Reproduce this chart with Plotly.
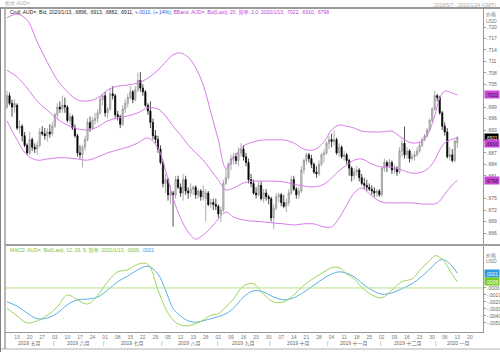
import plotly.graph_objects as go
import pandas as pd

# ---------------- data (AUD= daily bid) ----------------
start_date = "2019-05-07"
last_date = "2020-01-13"
axis_end_date = "2020-01-24"

opens = [.6990,.7020,.7000,.6990,.6995,.6935,.6940,.6915,.6890,.6870,.6905,.6885,.6880,.6890,.6925,.6920,.6915,.6925,.6920,.6940,
         .6970,.6990,.6985,.6995,.6990,.6955,.6965,.6935,.6915,.6870,.6865,.6885,.6905,.6950,.6935,.6955,.6960,.6975,.7010,.7020,
         .6975,.6985,.7025,.7020,.6970,.6965,.6945,.6985,.7000,.7015,.7030,.7010,.7035,.7060,.7040,.7030,.6995,.6980,.6950,.6915,
         .6905,.6880,.6845,.6790,.6800,.6760,.6765,.6760,.6800,.6780,.6765,.6800,.6770,.6765,.6775,.6780,.6760,.6770,.6755,.6750,
         .6765,.6735,.6740,.6735,.6730,.6710,.6720,.6790,.6805,.6840,.6855,.6860,.6850,.6870,.6880,.6860,.6845,.6800,.6790,.6765,
         .6760,.6785,.6750,.6765,.6755,.6750,.6700,.6725,.6755,.6760,.6740,.6730,.6740,.6765,.6800,.6775,.6760,.6770,.6825,.6850,
         .6865,.6855,.6840,.6820,.6815,.6840,.6865,.6870,.6895,.6905,.6900,.6905,.6870,.6885,.6860,.6865,.6850,.6830,.6810,.6820,
         .6825,.6805,.6790,.6785,.6780,.6775,.6770,.6765,.6770,.6760,.6830,.6845,.6835,.6845,.6825,.6830,.6820,.6875,.6895,.6865,
         .6875,.6855,.6860,.6865,.6875,.6890,.6905,.6915,.6930,.6955,.6985,.7020,.7015,.6975,.6940,.6925,.6860,.6865,.6850,.6896]
highs = [.7033,.7028,.7010,.7010,.7000,.6955,.6945,.6925,.6895,.6925,.6910,.6895,.6900,.6935,.6940,.6935,.6935,.6945,.6950,.6975,
         .7000,.7005,.7020,.7015,.6995,.6975,.6970,.6945,.6920,.6890,.6890,.6915,.6960,.6965,.6965,.6975,.6985,.7020,.7025,.7030,
         .6990,.7040,.7045,.7025,.6980,.6970,.6995,.7010,.7025,.7045,.7035,.7045,.7080,.7082,.7050,.7035,.7000,.7005,.6960,.6930,
         .6915,.6890,.6850,.6815,.6805,.6785,.6770,.6810,.6810,.6790,.6815,.6810,.6780,.6790,.6785,.6785,.6775,.6775,.6785,.6775,
         .6770,.6750,.6750,.6750,.6735,.6730,.6800,.6830,.6845,.6865,.6870,.6870,.6885,.6895,.6890,.6870,.6855,.6815,.6800,.6780,
         .6795,.6795,.6775,.6775,.6760,.6755,.6735,.6765,.6765,.6765,.6760,.6750,.6775,.6810,.6810,.6780,.6780,.6835,.6855,.6870,
         .6870,.6865,.6845,.6835,.6850,.6870,.6880,.6900,.6915,.6920,.6930,.6910,.6895,.6890,.6875,.6870,.6855,.6835,.6830,.6835,
         .6830,.6815,.6805,.6800,.6790,.6785,.6780,.6775,.6775,.6835,.6855,.6850,.6855,.6850,.6840,.6835,.6885,.6905,.6939,.6885,
         .6880,.6870,.6875,.6885,.6900,.6910,.6920,.6935,.6960,.6990,.7032,.7025,.7020,.6980,.6950,.6935,.6885,.6880,.6905,.6913]
lows = [.6985,.6995,.6965,.6975,.6930,.6920,.6900,.6885,.6865,.6865,.6875,.6870,.6865,.6885,.6915,.6905,.6900,.6910,.6915,.6935,
        .6960,.6975,.6975,.6975,.6950,.6945,.6930,.6910,.6860,.6855,.6832,.6875,.6900,.6925,.6930,.6945,.6950,.6970,.6995,.6965,
        .6960,.6980,.7010,.6960,.6955,.6935,.6940,.6975,.6990,.7010,.7000,.7005,.7030,.7030,.7020,.6990,.6970,.6935,.6905,.6895,
        .6870,.6840,.6780,.6765,.6745,.6735,.6677,.6750,.6775,.6755,.6745,.6760,.6750,.6755,.6760,.6750,.6750,.6745,.6745,.6690,
        .6730,.6725,.6720,.6720,.6700,.6688,.6715,.6785,.6800,.6825,.6840,.6840,.6835,.6860,.6850,.6835,.6790,.6780,.6760,.6750,
        .6755,.6745,.6740,.6745,.6735,.6690,.6671,.6720,.6740,.6730,.6725,.6715,.6730,.6760,.6770,.6750,.6750,.6765,.6815,.6840,
        .6845,.6830,.6815,.6805,.6810,.6835,.6845,.6865,.6880,.6885,.6890,.6865,.6860,.6855,.6850,.6840,.6810,.6795,.6800,.6810,
        .6795,.6785,.6775,.6770,.6770,.6760,.6755,.6755,.6755,.6755,.6820,.6820,.6830,.6815,.6815,.6810,.6815,.6860,.6855,.6855,
        .6845,.6850,.6850,.6860,.6870,.6885,.6900,.6910,.6925,.6950,.6980,.7005,.6970,.6930,.6915,.6855,.6850,.6845,.6845,.6882]
closes = [.7020,.7000,.6990,.7000,.6935,.6940,.6915,.6890,.6870,.6905,.6885,.6880,.6890,.6925,.6920,.6915,.6925,.6920,.6940,.6970,
          .6990,.6985,.6995,.6990,.6955,.6965,.6935,.6915,.6870,.6865,.6885,.6905,.6950,.6935,.6955,.6960,.6975,.7010,.7020,.6975,
          .6985,.7025,.7020,.6970,.6965,.6945,.6985,.7000,.7015,.7030,.7010,.7035,.7060,.7040,.7030,.6995,.6980,.6950,.6915,.6905,
          .6880,.6845,.6790,.6800,.6760,.6765,.6760,.6800,.6780,.6765,.6800,.6770,.6765,.6775,.6780,.6760,.6770,.6755,.6770,.6765,
          .6735,.6740,.6735,.6730,.6710,.6720,.6790,.6805,.6840,.6855,.6860,.6850,.6870,.6880,.6860,.6845,.6800,.6790,.6765,.6760,
          .6785,.6750,.6765,.6755,.6750,.6700,.6725,.6755,.6760,.6740,.6730,.6740,.6765,.6800,.6775,.6760,.6770,.6825,.6850,.6865,
          .6855,.6840,.6820,.6815,.6840,.6865,.6870,.6895,.6905,.6900,.6905,.6870,.6885,.6860,.6865,.6850,.6830,.6810,.6820,.6825,
          .6805,.6790,.6785,.6780,.6775,.6770,.6765,.6770,.6760,.6830,.6845,.6835,.6845,.6825,.6830,.6820,.6875,.6895,.6865,.6875,
          .6855,.6860,.6865,.6875,.6890,.6905,.6915,.6930,.6955,.6985,.7020,.7015,.6975,.6940,.6925,.6860,.6865,.6850,.6901,.6911]

# Bollinger band (20, 2.0) at sample dates
band_dates = ["2019-05-07","2019-05-13","2019-05-17","2019-05-23","2019-05-29","2019-06-04","2019-06-10","2019-06-14",
              "2019-06-20","2019-06-26","2019-07-02","2019-07-08","2019-07-12","2019-07-18","2019-07-24","2019-07-30",
              "2019-08-02","2019-08-07","2019-08-12","2019-08-15","2019-08-20","2019-08-23","2019-08-28","2019-09-02",
              "2019-09-05","2019-09-10","2019-09-16","2019-09-20","2019-09-26","2019-10-02","2019-10-08","2019-10-14",
              "2019-10-18","2019-10-24","2019-10-30","2019-11-04","2019-11-07","2019-11-12","2019-11-15","2019-11-20",
              "2019-11-26","2019-12-02","2019-12-06","2019-12-12","2019-12-18","2019-12-24","2019-12-27","2019-12-31",
              "2020-01-02","2020-01-06","2020-01-09","2020-01-13"]
bb_upper = [.7224,.7234,.7218,.7161,.7108,.7061,.7030,.7009,.7006,.7014,.7035,.7045,.7048,.7053,.7066,.7087,
            .7108,.7127,.7132,.7121,.7093,.7048,.6977,.6904,.6830,.6857,.6888,.6899,.6904,.6904,.6904,.6896,
            .6880,.6878,.6899,.6930,.6943,.6940,.6935,.6927,.6925,.6925,.6927,.6909,.6896,.6901,.6930,.6967,
            .7014,.7032,.7027,.7022]
bb_middle = [.7087,.7069,.7040,.7006,.6982,.6959,.6943,.6933,.6930,.6938,.6954,.6961,.6967,.6975,.6988,.6985,
             .6967,.6940,.6917,.6891,.6870,.6851,.6825,.6799,.6773,.6778,.6791,.6796,.6796,.6796,.6794,.6788,
             .6783,.6781,.6788,.6804,.6823,.6838,.6851,.6854,.6841,.6833,.6833,.6825,.6817,.6820,.6833,.6851,
             .6878,.6896,.6906,.6910]
bb_lower = [.6954,.6904,.6864,.6851,.6854,.6857,.6857,.6854,.6851,.6859,.6870,.6878,.6885,.6896,.6909,.6883,
            .6825,.6752,.6699,.6663,.6644,.6655,.6673,.6697,.6715,.6702,.6694,.6691,.6689,.6686,.6684,.6681,
            .6684,.6684,.6676,.6676,.6699,.6733,.6765,.6778,.6757,.6741,.6739,.6739,.6739,.6736,.6736,.6736,
            .6744,.6762,.6786,.6798]

# MACD (12, 26, 9) at the same sample dates
macd_line = [-.0029,-.0040,-.0050,-.0047,-.0039,-.0027,-.0010,-.0017,-.0023,-.0011,.0009,.0023,.0026,.0034,.0034,-.0003,
             -.0029,-.0046,-.0053,-.0054,-.0051,-.0046,-.0039,-.0037,-.0027,-.0016,.0003,.0006,-.0009,-.0020,-.0020,-.0010,
             .0004,.0014,.0023,.0029,.0029,.0020,.0013,.0001,-.0010,-.0014,-.0003,.0009,.0013,.0029,.0039,.0046,
             .0044,.0037,.0019,.0009]
macd_signal = [-.0020,-.0026,-.0036,-.0044,-.0043,-.0036,-.0024,-.0017,-.0016,-.0013,-.0003,.0009,.0017,.0026,.0031,.0020,
               -.0003,-.0029,-.0040,-.0047,-.0049,-.0047,-.0044,-.0041,-.0037,-.0029,-.0013,-.0004,-.0006,-.0013,-.0017,-.0014,
               -.0006,.0004,.0014,.0020,.0023,.0021,.0016,.0007,-.0003,-.0009,-.0007,-.0001,.0006,.0017,.0027,.0034,
               .0040,.0040,.0031,.0021]

price_ticks = [.666, .669, .672, .675, .681, .684, .687, .693, .696, .699, .705, .708, .711, .714, .717, .720]
macd_ticks = [0.0, -.001, -.002, -.003, -.004, -.005]
month_names = ["一月","二月","三月","四月","五月","六月","七月","八月","九月","十月","十一月","十二月"]

# ---------------- helpers ----------------
W, H = 500, 352
def px(x): return x / W
def py(y): return 1 - y / H
def nz(v, fmt="%.4f"):
    s = fmt % v
    return s.replace("0.", ".", 1)

trade_dates = pd.bdate_range(start_date, last_date)
axis_dates = pd.bdate_range(start_date, axis_end_date)
pos = {d: i for i, d in enumerate(axis_dates)}
xi = list(range(len(trade_dates)))
bx = [pos[pd.Timestamp(d)] for d in band_dates]

FONT = "Liberation Sans, Arial, Noto Sans CJK SC"
BAND = "#d77ce9"
GREEN = "#9bd65a"
BLUE = "#5aaee8"

fig = go.Figure()
fig.add_trace(go.Candlestick(
    x=xi, open=opens, high=highs, low=lows, close=closes,
    increasing=dict(line=dict(color="#8a8a8a", width=0.7), fillcolor="#d4d4d4"),
    decreasing=dict(line=dict(color="#000000", width=0.7), fillcolor="#000000"),
    whiskerwidth=0, xaxis="x", yaxis="y", showlegend=False, hoverinfo="skip"))
for arr in (bb_upper, bb_middle, bb_lower):
    fig.add_trace(go.Scatter(x=bx, y=arr, mode="lines", line=dict(color=BAND, width=1, shape="spline", smoothing=1.0),
                             xaxis="x", yaxis="y", showlegend=False, hoverinfo="skip"))
fig.add_trace(go.Scatter(x=bx, y=macd_signal, mode="lines", line=dict(color=BLUE, width=1, shape="spline", smoothing=1.0),
                         xaxis="x2", yaxis="y2", showlegend=False, hoverinfo="skip"))
fig.add_trace(go.Scatter(x=bx, y=macd_line, mode="lines", line=dict(color=GREEN, width=1, shape="spline", smoothing=1.0),
                         xaxis="x2", yaxis="y2", showlegend=False, hoverinfo="skip"))

xr = [-0.8, len(axis_dates) + 0.2]
mondays = [i for i, d in enumerate(axis_dates) if d.weekday() == 0]
fig.update_layout(
    width=W, height=H, margin=dict(l=0, r=0, t=0, b=0),
    paper_bgcolor="white", plot_bgcolor="white",
    font=dict(family=FONT, size=5, color="#555555"),
    xaxis=dict(domain=[px(5), px(483)], range=xr, showticklabels=False, showgrid=False, zeroline=False,
               rangeslider=dict(visible=False), anchor="y", fixedrange=True),
    yaxis=dict(domain=[py(244), py(9)], range=[.66312, .72472], side="right", showgrid=False, zeroline=False,
               tickvals=price_ticks, ticktext=[nz(v, "%.3f") for v in price_ticks], ticks="outside", ticklen=2,
               tickcolor="#999999", tickfont=dict(size=5, color="#666666"), showline=True, linecolor="#999999",
               linewidth=1, anchor="x"),
    xaxis2=dict(domain=[px(5), px(483)], range=xr, showgrid=False, zeroline=False, anchor="y2",
                tickvals=mondays, ticktext=["%02d" % axis_dates[i].day for i in mondays], ticks="",
                tickfont=dict(size=5, color="#777777"), showline=True, linecolor="#999999", linewidth=1),
    yaxis2=dict(domain=[py(332), py(246)], range=[-.0063, .0060], side="right", showgrid=False, zeroline=False,
                tickvals=macd_ticks, ticktext=[nz(v) for v in macd_ticks],
                ticks="outside", ticklen=2, tickcolor="#999999", tickfont=dict(size=5, color="#666666"),
                showline=True, linecolor="#999999", linewidth=1, anchor="x2"),
)
# zero line of MACD
fig.add_shape(type="line", xref="x2", yref="y2", x0=xr[0], x1=xr[1], y0=0, y1=0, line=dict(color="#b5e08a", width=1))

# frame lines
def hline(y, x0, x1, color, w):
    fig.add_shape(type="line", xref="paper", yref="paper", x0=px(x0), x1=px(x1), y0=py(y), y1=py(y),
                  line=dict(color=color, width=w))
def vline(x, y0, y1, color, w):
    fig.add_shape(type="line", xref="paper", yref="paper", x0=px(x), x1=px(x), y0=py(y0), y1=py(y1),
                  line=dict(color=color, width=w))
hline(8, 0, 500, "#9a9a9a", 2)
hline(245, 5, 500, "#a0a0a0", 2)
hline(349, 0, 500, "#b0b0b0", 1)
vline(5, 8, 349, "#a0a0a0", 1.5)
vline(0.5, 8, 352, "#808080", 1)

# month labels
am = pd.Series(range(len(axis_dates)), index=axis_dates)
groups = list(am.groupby([axis_dates.year, axis_dates.month]))
for k, ((yr, mo), s) in enumerate(groups):
    fig.add_annotation(x=s.mean(), y=py(343), xref="x2", yref="paper", text="%d %s" % (yr, month_names[mo - 1]),
                       showarrow=False, font=dict(size=5, color="#666666"), xanchor="center", yanchor="middle")
    if k > 0:
        fig.add_annotation(x=s.iloc[0] - 0.5, y=py(343), xref="x2", yref="paper", text="|", showarrow=False,
                           font=dict(size=5, color="#888888"), xanchor="center", yanchor="middle")

# header texts
fig.add_annotation(x=px(3), y=py(4), xref="paper", yref="paper", text="相关 AUD=", showarrow=False,
                   font=dict(size=5, color="#aaaaaa"), xanchor="left", yanchor="middle")
fig.add_annotation(x=px(498), y=py(4.5), xref="paper", yref="paper", text="%s - %s (GMT)" % (
    pd.Timestamp(start_date).strftime("%Y/%-m/%-d"), pd.Timestamp(axis_end_date).strftime("%Y/%-m/%-d")),
                   showarrow=False, font=dict(size=5, color="#aaaaaa"), xanchor="right", yanchor="middle")
d_last = pd.Timestamp(last_date).strftime("%Y/%-m/%-d")
chg = round(closes[-1] - closes[-2], 4)
pct = round(chg / closes[-2] * 100, 2)
legend = ("Cndl, AUD=, Bid, %s, %s, %s, %s, %s, " % (d_last, nz(opens[-1]), nz(highs[-1]), nz(lows[-1]), nz(closes[-1]))
          + "<span style='color:#3355dd'>+%s, (+%s%%),</span>" % (nz(chg), nz(pct, "%.2f"))
          + "<span style='color:#c040d8'> BBand, AUD=, Bid(Last), 20, 简单, 2.0, %s, %s, %s, %s</span>" % (
              d_last, nz(bb_upper[-1]), nz(bb_middle[-1]), nz(bb_lower[-1])))
fig.add_annotation(x=px(8), y=py(12.5), xref="paper", yref="paper", text=legend, showarrow=False,
                   font=dict(size=5, color="#222222"), xanchor="left", yanchor="middle")
mlegend = ("<span style='color:#7cc23a'>MACD, AUD=, Bid(Last), 12, 26, 9, 简单, %s, %s,</span>" % (
    d_last, nz(macd_line[-1])) + "<span style='color:#3399dd'> %s</span>" % nz(macd_signal[-1]))
fig.add_annotation(x=px(8), y=py(250.5), xref="paper", yref="paper", text=mlegend, showarrow=False,
                   font=dict(size=5), xanchor="left", yanchor="middle")

# axis unit labels
for txt, yy in (("价格", 15), ("USD", 21), ("价格", 255), ("USD", 261)):
    fig.add_annotation(x=px(491), y=py(yy), xref="paper", yref="paper", text=txt, showarrow=False,
                       font=dict(size=5, color="#777777"), xanchor="center", yanchor="middle")

# last-value flags
def flag(val, yref, text, bg, fg, shift=0):
    fig.add_annotation(x=px(484), y=val, xref="paper", yref=yref, text=text, showarrow=False, bgcolor=bg,
                       font=dict(size=5, color=fg), xanchor="left", yanchor="middle", yshift=shift, borderpad=0.5)
flag(bb_upper[-1], "y", nz(bb_upper[-1]), "#cc44dd", "#222222")
flag(closes[-1], "y", nz(closes[-1]), "#000000", "#ffffff")
flag(bb_middle[-1], "y", nz(bb_middle[-1]), "#cc44dd", "#222222", shift=-6)
flag(bb_lower[-1], "y", nz(bb_lower[-1]), "#cc44dd", "#222222")
flag(macd_signal[-1], "y2", nz(macd_signal[-1]), "#2a9be0", "#ffffff")
flag(macd_line[-1], "y2", nz(macd_line[-1]), "#77cc22", "#ffffff")

fig.write_html("out.html")
